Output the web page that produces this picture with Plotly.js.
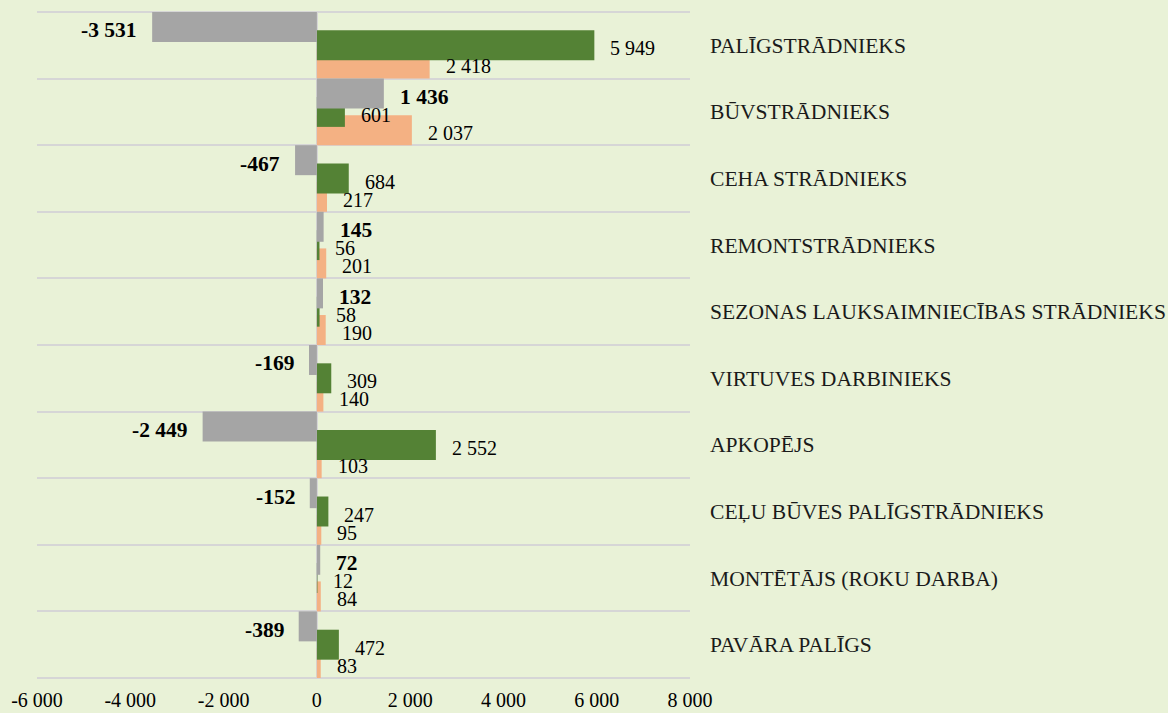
<!DOCTYPE html>
<html>
<head>
<meta charset="utf-8">
<script src="https://cdn.plot.ly/plotly-3.0.1.min.js"></script>
<style>html,body{margin:0;padding:0;background:#E9F2D7;}#chart{width:1168px;height:713px;}</style>
</head>
<body>
<div id="chart"></div>
<script>
const categories = [
  "PALĪGSTRĀDNIEKS",
  "BŪVSTRĀDNIEKS",
  "CEHA STRĀDNIEKS",
  "REMONTSTRĀDNIEKS",
  "SEZONAS LAUKSAIMNIECĪBAS STRĀDNIEKS",
  "VIRTUVES DARBINIEKS",
  "APKOPĒJS",
  "CEĻU BŪVES PALĪGSTRĀDNIEKS",
  "MONTĒTĀJS (ROKU DARBA)",
  "PAVĀRA PALĪGS"
];
const diffValues   = [-3531, 1436, -467, 145, 132, -169, -2449, -152, 72, -389];
const greenValues  = [5949, 601, 684, 56, 58, 309, 2552, 247, 12, 472];
const orangeValues = [2418, 2037, 217, 201, 190, 140, 103, 95, 84, 83];
const xTicks = [-6000, -4000, -2000, 0, 2000, 4000, 6000, 8000];

function fmt(v) {
  const s = Math.abs(v).toString().replace(/\B(?=(\d{3})+(?!\d))/g, " ");
  return (v < 0 ? "-" : "") + s;
}

const W = 0.45;
const series = [
  {vals: orangeValues, color: "#F4B183", offset: 0.05, bold: false, yshift: -21},
  {vals: greenValues, color: "#548235", offset: -0.225, bold: false, yshift: -3},
  {vals: diffValues, color: "#A5A5A5", offset: -0.5, bold: true, yshift: 15}
];

const traces = series.map(s => ({
  type: "bar",
  orientation: "h",
  x: s.vals,
  y: categories,
  width: W,
  offset: s.offset,
  marker: {color: s.color, line: {width: 0}},
  hoverinfo: "x+y"
}));

const annotations = [];
series.forEach(s => {
  s.vals.forEach((v, i) => {
    annotations.push({
      x: v, y: categories[i], xref: "x", yref: "y",
      text: s.bold ? "<b>" + fmt(v) + "</b>" : fmt(v),
      showarrow: false,
      xanchor: v >= 0 ? "left" : "right",
      yanchor: "middle",
      xshift: v >= 0 ? 14 : -13,
      yshift: s.yshift,
      font: {family: "Liberation Serif", size: s.bold ? 21.5 : 20, color: "#000"}
    });
  });
});

const edgeLine = {color: "#D6D6D6", width: 2};
const shapes = [
  {type: "line", xref: "paper", yref: "paper", x0: 0, x1: 1, y0: 1, y1: 1, line: edgeLine, layer: "below"},
  {type: "line", xref: "paper", yref: "paper", x0: 0, x1: 1, y0: 0, y1: 0, line: edgeLine, layer: "below"}
];

const layout = {
  width: 1168, height: 713,
  margin: {l: 37, r: 478, t: 12, b: 35, pad: 0},
  paper_bgcolor: "#E9F2D7",
  plot_bgcolor: "#E9F2D7",
  barmode: "overlay",
  showlegend: false,
  font: {family: "Liberation Serif", size: 20, color: "#000"},
  xaxis: {
    range: [-6000, 8000],
    tickvals: xTicks,
    ticktext: xTicks.map(fmt),
    showgrid: false,
    zeroline: true,
    zerolinecolor: "#D6D6D6",
    zerolinewidth: 2,
    ticks: "",
    ticklabelstandoff: 8,
    tickfont: {family: "Liberation Serif", size: 20, color: "#000"},
    fixedrange: true
  },
  yaxis: {
    type: "category",
    range: [9.5, -0.5],
    side: "right",
    tickson: "boundaries",
    showgrid: true,
    gridcolor: "#D6D6D6",
    gridwidth: 2,
    ticks: "",
    ticklabelstandoff: 19,
    tickfont: {family: "Liberation Serif", size: 21.6, color: "#1a1a1a"},
    fixedrange: true
  },
  shapes: shapes,
  annotations: annotations
};

Plotly.newPlot("chart", traces, layout, {displayModeBar: false, staticPlot: true});
</script>
</body>
</html>
